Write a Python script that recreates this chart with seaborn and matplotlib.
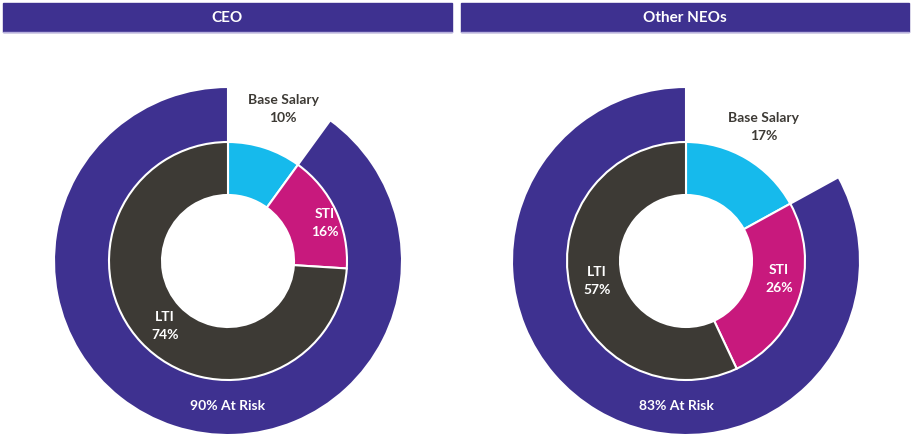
import matplotlib
matplotlib.use("Agg")
import matplotlib.pyplot as plt
import seaborn as sns

# Données
panels = ["CEO", "Other NEOs"]
components = ["Base Salary", "STI", "LTI"]
ceo_values = [10, 16, 74]
neo_values = [17, 26, 57]
at_risk = [90, 83]

sns.set_theme(style="white")
plt.rcParams['font.family'] = ['Lato', 'DejaVu Sans']

purple = "#3E3190"
palette = sns.color_palette(["#16BAEC", "#C8197D", "#3D3A35"])
text_dark = "#3D3A35"

W, H = 912, 440
fig = plt.figure(figsize=(W / 100, H / 100), dpi=100)
fig.patch.set_facecolor("white")

# Bandeaux de titre
bars = [(3, 452), (461, 909)]
hdr = fig.add_axes([0, 0, 1, 1])
hdr.set_xlim(0, W)
hdr.set_ylim(H, 0)
hdr.axis("off")
for (x0, x1), name in zip(bars, panels):
    hdr.add_patch(plt.Rectangle((x0, 3), x1 - x0, 29, color=purple))
    hdr.plot([x0, x1], [32.5, 32.5], color="#B7B0DD", lw=1)
    hdr.text((x0 + x1) / 2, 18, name, color="white", fontsize=11,
             fontweight="bold", ha="center", va="center")

centers = [(228, 261), (686, 261)]
# positions des étiquettes (relatives au centre, unités = 100 px)
label_pos = [
    {"Base Salary": (0.55, 1.52), "STI": (0.97, 0.38), "LTI": (-0.63, -0.65), "risk": (0.0, -1.45)},
    {"Base Salary": (0.78, 1.34), "STI": (0.93, -0.18), "LTI": (-0.89, -0.20), "risk": (-0.10, -1.45)},
]

for (cx, cy), values, risk, pos in zip(centers, [ceo_values, neo_values], at_risk, label_pos):
    half = 180
    ax = fig.add_axes([(cx - half) / W, (H - cy - half) / H, 2 * half / W, 2 * half / H])

    # Anneau extérieur : part à risque
    outer, _ = ax.pie([100 - risk, risk], radius=1.74, startangle=90, counterclock=False,
                      colors=["none", purple],
                      wedgeprops=dict(width=0.56, edgecolor="white", linewidth=1.5))
    outer[0].set_edgecolor("none")

    # Donut intérieur
    ax.pie(values, radius=1.19, startangle=90, counterclock=False, colors=palette,
           wedgeprops=dict(width=0.53, edgecolor="white", linewidth=1.5))

    # pie() fixe ses propres limites : on les remet après
    ax.set_xlim(-1.8, 1.8)
    ax.set_ylim(-1.8, 1.8)
    ax.set_aspect("equal")
    ax.axis("off")

    for comp, val in zip(components, values):
        x, y = pos[comp]
        col = text_dark if comp == "Base Salary" else "white"
        ax.text(x, y, f"{comp}\n{val}%", color=col, fontsize=10, fontweight="bold",
                ha="center", va="center", linespacing=1.55)
    x, y = pos["risk"]
    ax.text(x, y, f"{risk}% At Risk", color="white", fontsize=10, fontweight="bold",
            ha="center", va="center")

fig.savefig("out.png", dpi=100, facecolor="white")
